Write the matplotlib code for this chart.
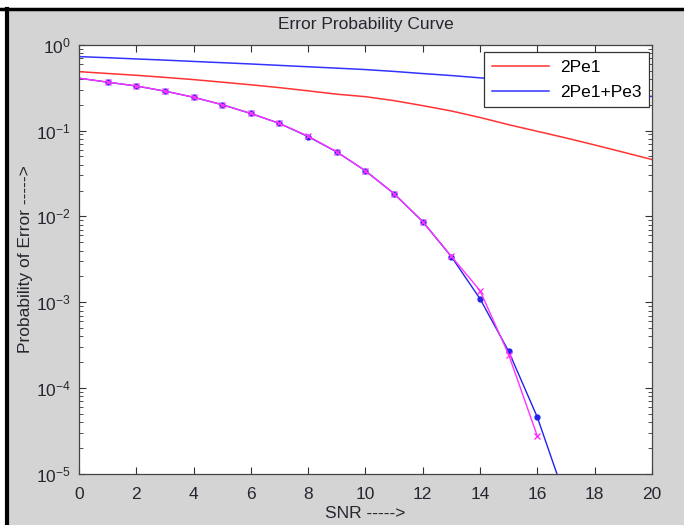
import numpy as np
import matplotlib.pyplot as plt
from matplotlib.lines import Line2D
from matplotlib.ticker import LogLocator, NullFormatter

plt.rcParams["font.family"] = ["Liberation Sans", "DejaVu Sans"]
plt.rcParams["font.size"] = 12

# SNR axis
snr = np.arange(0, 21)
snr_sim = np.arange(0, 18)

# theoretical curves
pe_2pe1 = [0.485, 0.462, 0.440, 0.416, 0.392, 0.366, 0.341, 0.316, 0.290, 0.265,
           0.248, 0.223, 0.195, 0.169, 0.142, 0.117, 0.098, 0.082, 0.068, 0.056, 0.046]
pe_2pe1_pe3 = [0.726, 0.705, 0.682, 0.661, 0.638, 0.617, 0.596, 0.574, 0.553, 0.533,
               0.513, 0.488, 0.461, 0.437, 0.411, 0.385, 0.357, 0.330, 0.302, 0.275, 0.249]

# simulated curves (magenta x, blue dots)
pe_sim_x = [0.407, 0.366, 0.331, 0.287, 0.245, 0.200, 0.158, 0.121, 0.086, 0.0565,
            0.034, 0.0184, 0.0087, 0.00343, 0.00137, 0.000246, 2.77e-5]
pe_sim_dot = [0.407, 0.366, 0.330, 0.288, 0.244, 0.200, 0.158, 0.121, 0.085, 0.0563,
              0.034, 0.0184, 0.0087, 0.00340, 0.00110, 0.000269, 4.6e-5, 5.0e-6]

bg = '#d4d4d4'
txt = '#262630'
fig = plt.figure(figsize=(6.84, 5.25), dpi=100, facecolor=bg)
ax = fig.add_axes([0.1155, 0.0971, 0.8375, 0.8178])

ax.semilogy(snr, pe_2pe1, color='#ff3333', lw=1.1, label='2Pe1')
ax.semilogy(snr, pe_2pe1_pe3, color='#3333ff', lw=1.1, label='2Pe1+Pe3')
ax.semilogy(snr_sim, pe_sim_dot, color='#2222ee', lw=1.0, marker='.', ms=7,
            markevery=slice(1, None))
ax.semilogy(snr_sim[:17], pe_sim_x, color='#ff33ff', lw=1.0, marker='x', ms=5,
            mew=1.0, markevery=slice(1, None))

ax.set_xlim(0, 20)
ax.set_ylim(1e-5, 1)
ax.set_xticks(np.arange(0, 21, 2))
ax.yaxis.set_major_locator(LogLocator(base=10, numticks=10))
ax.yaxis.set_minor_locator(LogLocator(base=10, subs=np.arange(2, 10), numticks=10))
ax.yaxis.set_minor_formatter(NullFormatter())
ax.tick_params(which='both', direction='in', top=True, right=True, colors='#333333',
               labelcolor=txt, labelsize=12.5)
ax.tick_params(which='major', length=5, width=0.8)
ax.tick_params(axis='x', which='major', pad=9)
ax.tick_params(axis='y', which='major', pad=6)
ax.tick_params(which='minor', length=3, width=0.6)
for s in ax.spines.values():
    s.set_color('#444444')
    s.set_linewidth(0.9)

ax.set_title('Error Probability Curve', fontsize=12.5, color=txt, pad=11)
ax.set_xlabel('SNR ----->', fontsize=12.5, color=txt, labelpad=3)
ax.set_ylabel('Probability of Error ----->', fontsize=12.5, color=txt, labelpad=2)

leg = ax.legend(loc='upper right', fancybox=False, edgecolor='#333333', framealpha=1,
                fontsize=12.5, handlelength=3.3, handletextpad=0.6, borderpad=0.45,
                labelspacing=0.55, borderaxespad=0, bbox_to_anchor=(0.995, 0.983))
leg.get_frame().set_linewidth(0.9)

# screenshot frame: white strip and black border at top/left
fig.add_artist(Line2D([0, 1], [1 - 8.5 / 525, 1 - 8.5 / 525], color='black', lw=2.5,
                      transform=fig.transFigure))
fig.add_artist(Line2D([7 / 684, 7 / 684], [0, 1 - 8.5 / 525], color='black', lw=3,
                      transform=fig.transFigure))
fig.patches.append(plt.Rectangle((0, 1 - 7 / 525), 1, 7 / 525, color='white',
                                 transform=fig.transFigure, zorder=-1))
fig.patches.append(plt.Rectangle((0, 0), 5 / 684, 1, color='white',
                                 transform=fig.transFigure, zorder=-1))

fig.savefig('out.png', dpi=100, facecolor=bg)
